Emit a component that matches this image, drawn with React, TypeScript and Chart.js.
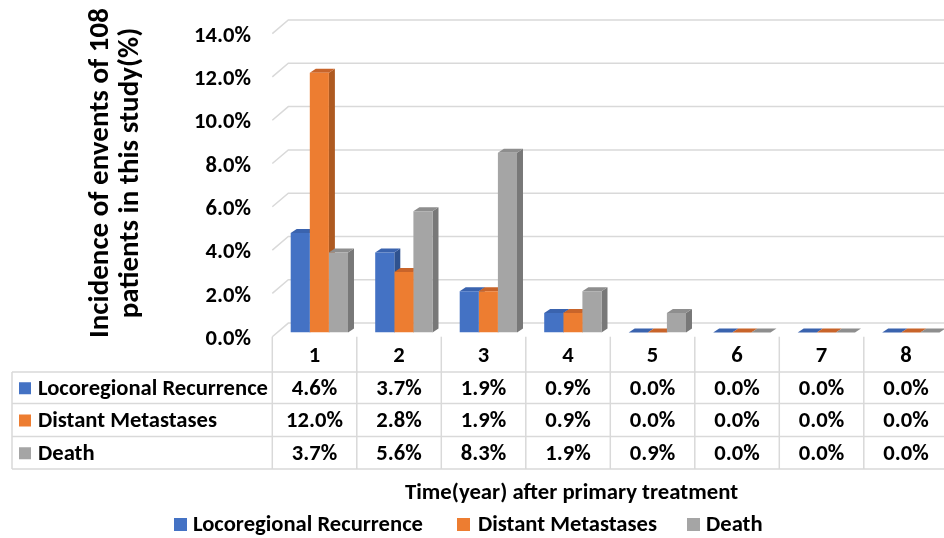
import React, { useEffect, useRef } from "react";
import { Chart, registerables } from "chart.js";

Chart.register(...registerables);

const categories = ["1", "2", "3", "4", "5", "6", "7", "8"];
const seriesNames = ["Locoregional Recurrence", "Distant Metastases", "Death"];
const locoregional = [4.6, 3.7, 1.9, 0.9, 0.0, 0.0, 0.0, 0.0];
const distant = [12.0, 2.8, 1.9, 0.9, 0.0, 0.0, 0.0, 0.0];
const death = [3.7, 5.6, 8.3, 1.9, 0.9, 0.0, 0.0, 0.0];
const yTicks = [0, 2, 4, 6, 8, 10, 12, 14];
const yTitleLines = ["Incidence of envents of 108", "patients in this study(%)"];
const xTitle = "Time(year) after primary treatment";

const frontColors = ["#4472C4", "#ED7D31", "#A5A5A5"];
const sideColors = ["#2F528F", "#AE5A21", "#787878"];
const topColors = ["#3A63AE", "#C8642A", "#8E8E8E"];

const FAM = "Carlito, Calibri, Lato, sans-serif";
const W = 960;
const H = 538;
// depth offsets relative to the bar plane
const FX = -4.8, FY = 4.2; // front edge of floor
const WX = 11.2, WY = -9.4; // back wall
const BX = 6, BY = -4; // bar depth
const GRID = "#d9d9d9";

function fitFont(ctx: CanvasRenderingContext2D, text: string, width: number) {
  ctx.font = `bold 100px ${FAM}`;
  const w = ctx.measureText(text).width;
  return (100 * width) / w;
}

const threeD = {
  id: "threeD",
  beforeDatasetsDraw(chart: any) {
    const ctx: CanvasRenderingContext2D = chart.ctx;
    const ca = chart.chartArea;
    const ys = chart.scales.y;
    ctx.save();
    ctx.strokeStyle = GRID;
    ctx.lineWidth = 1.5;
    for (const v of yTicks) {
      const y = ys.getPixelForValue(v);
      ctx.beginPath();
      ctx.moveTo(ca.left + FX, y + FY);
      ctx.lineTo(ca.left + WX, y + WY);
      ctx.lineTo(W, y + WY);
      ctx.stroke();
    }
    chart.data.datasets.forEach((ds: any, di: number) => {
      const meta = chart.getDatasetMeta(di);
      meta.data.forEach((bar: any) => {
        const L = bar.x - bar.width / 2;
        const R = bar.x + bar.width / 2;
        const top = Math.min(bar.y, bar.base);
        const base = Math.max(bar.y, bar.base);
        ctx.fillStyle = sideColors[di];
        ctx.beginPath();
        ctx.moveTo(R, top);
        ctx.lineTo(R + BX, top + BY);
        ctx.lineTo(R + BX, base + BY);
        ctx.lineTo(R, base);
        ctx.closePath();
        ctx.fill();
        ctx.fillStyle = topColors[di];
        ctx.beginPath();
        ctx.moveTo(L, top);
        ctx.lineTo(R, top);
        ctx.lineTo(R + BX, top + BY);
        ctx.lineTo(L + BX, top + BY);
        ctx.closePath();
        ctx.fill();
      });
    });
    ctx.restore();
  },
  afterDraw(chart: any) {
    const ctx: CanvasRenderingContext2D = chart.ctx;
    const ca = chart.chartArea;
    const ys = chart.scales.y;
    const xs = chart.scales.x;
    ctx.save();
    const tableSize = fitFont(ctx, seriesNames[0], 230);
    const tf = `bold ${tableSize.toFixed(2)}px ${FAM}`;

    // y tick labels
    ctx.font = tf;
    ctx.fillStyle = "#000";
    ctx.textAlign = "right";
    ctx.textBaseline = "middle";
    for (const v of yTicks) {
      const y = ys.getPixelForValue(v) + FY;
      ctx.fillText(v.toFixed(1) + "%", 251, y + 2.5);
    }

    // y title
    const ytSize = fitFont(ctx, yTitleLines[0], 330);
    ctx.font = `bold ${ytSize.toFixed(2)}px ${FAM}`;
    ctx.textAlign = "center";
    ctx.save();
    ctx.translate(101, 173);
    ctx.rotate(-Math.PI / 2);
    ctx.fillText(yTitleLines[0], 0, 0);
    ctx.fillText(yTitleLines[1], 0, 30);
    ctx.restore();

    // data table
    const cw = (ca.right - ca.left) / categories.length;
    const floorY = ca.bottom + FY;
    const rowLines = [372, 403.5, 436.5, 469];
    const tableLeft = 12;
    ctx.strokeStyle = GRID;
    ctx.lineWidth = 1.5;
    for (let i = 0; i <= categories.length; i++) {
      const x = ca.left + FX + i * cw;
      ctx.beginPath();
      ctx.moveTo(x, floorY);
      ctx.lineTo(x, rowLines[3]);
      ctx.stroke();
    }
    ctx.beginPath();
    ctx.moveTo(tableLeft, rowLines[0]);
    ctx.lineTo(tableLeft, rowLines[3]);
    ctx.stroke();
    for (const ry of rowLines) {
      ctx.beginPath();
      ctx.moveTo(tableLeft, ry);
      ctx.lineTo(W, ry);
      ctx.stroke();
    }
    ctx.font = tf;
    ctx.fillStyle = "#000";
    ctx.textAlign = "center";
    ctx.textBaseline = "middle";
    categories.forEach((c, i) => {
      const x = xs.getPixelForValue(i) + FX;
      ctx.fillText(c, x, (floorY + rowLines[0]) / 2 + 2);
    });
    const series = [locoregional, distant, death];
    series.forEach((vals, r) => {
      const cy = (rowLines[r] + rowLines[r + 1]) / 2 + 1.5;
      ctx.fillStyle = frontColors[r];
      ctx.fillRect(19, cy - 7, 12, 12);
      ctx.fillStyle = "#000";
      ctx.textAlign = "left";
      ctx.fillText(seriesNames[r], 38, cy);
      ctx.textAlign = "center";
      vals.forEach((v, i) => {
        const x = xs.getPixelForValue(i) + FX;
        ctx.fillText(v.toFixed(1) + "%", x, cy);
      });
    });

    // x title
    const xtSize = fitFont(ctx, xTitle, 333);
    ctx.font = `bold ${xtSize.toFixed(2)}px ${FAM}`;
    ctx.textAlign = "left";
    ctx.fillText(xTitle, 405, 493);

    // legend
    ctx.font = tf;
    const sq = [174, 457, 687];
    const tx = [193, 478, 706];
    seriesNames.forEach((n, i) => {
      ctx.fillStyle = frontColors[i];
      ctx.fillRect(sq[i], 518, 13, 13);
      ctx.fillStyle = "#000";
      ctx.fillText(n, tx[i], 525);
    });
    ctx.restore();
  },
};

export default function App() {
  const ref = useRef<HTMLCanvasElement | null>(null);
  useEffect(() => {
    document.body.style.margin = "0";
    const canvas = ref.current!;
    const chart = new Chart(canvas, {
      type: "bar",
      data: {
        labels: categories,
        datasets: [locoregional, distant, death].map((d, i) => ({
          label: seriesNames[i],
          data: d,
          backgroundColor: frontColors[i],
          borderWidth: 0,
          categoryPercentage: 0.678,
          barPercentage: 1.0,
        })),
      },
      options: {
        animation: false,
        responsive: false,
        devicePixelRatio: 1,
        layout: { padding: { left: 277.1, right: W - 953.1, top: 29.4, bottom: H - 332.5 } },
        plugins: { legend: { display: false }, tooltip: { enabled: false } },
        scales: {
          x: { display: false },
          y: { display: false, min: 0, max: 14, ticks: { stepSize: 2 } },
        },
      },
      plugins: [threeD],
    });
    return () => chart.destroy();
  }, []);
  return (
    <div style={{ width: 944, height: 538, overflow: "hidden", background: "#fff" }}>
      <canvas ref={ref} width={W} height={H} style={{ display: "block", width: W, height: H }} />
    </div>
  );
}
